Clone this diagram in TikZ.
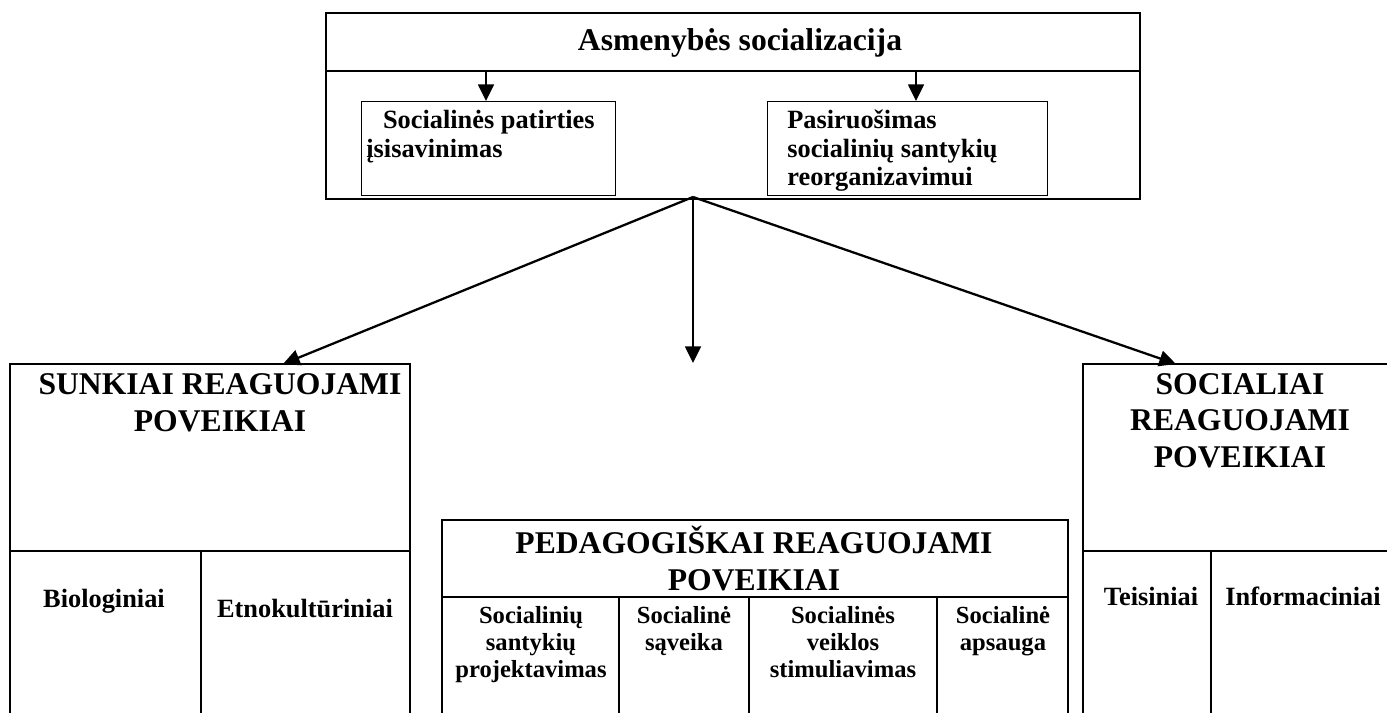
\documentclass[tikz,border=0pt]{standalone}
\usepackage{fontspec}
\setmainfont{Liberation Serif}
\usetikzlibrary{arrows.meta}

\tikzset{
  box/.style={draw, line width=0.8pt},
  arr/.style={line width=1.3pt, -{Triangle[length=9.5pt,width=9pt]}},
  head/.style={font=\bfseries\fontsize{18}{20.5}\selectfont, align=center, inner sep=0pt, anchor=base},
  sub/.style={font=\bfseries\fontsize{15}{16.5}\selectfont, align=left, inner sep=0pt, anchor=base west},
  cell/.style={font=\bfseries\fontsize{14}{15.3}\selectfont, align=center, inner sep=0pt, anchor=base},
  kind/.style={font=\bfseries\fontsize{15}{17}\selectfont, inner sep=0pt, anchor=base},
}

\begin{document}
\begin{tikzpicture}[x=0.02cm, y=-0.02cm]
        \useasboundingbox (0,0) rectangle (1387,713);

        % top block (multi-line nodes sit on the baseline of their last line)
        \draw[box] (326,13) rectangle (1140,199);
        \draw[box] (326,71) -- (1140,71);
        \node[head] (asm) at (740,51) {Asmenybės socializacija};

        \node[box, anchor=north west, minimum width=5.08cm, minimum height=1.88cm, inner sep=0pt] (patirtis) at (361,101) {};
        \node[box, anchor=north west, minimum width=5.6cm, minimum height=1.88cm, inner sep=0pt] (pasiruos) at (767,101) {};
        \node[sub] (patirtisTxt) at (366,157) {\hspace*{9.5pt}Socialinės patirties\\įsisavinimas};
        \node[sub] (pasiruosTxt) at (787,186) {Pasiruošimas\\socialinių santykių\\reorganizavimui};

        \coordinate (p1) at (486,71);
        \coordinate (p2) at (916,71);
        \draw[arr] (p1) -- (p1 |- patirtis.north);
        \draw[arr] (p2) -- (p2 |- pasiruos.north);

        % lower blocks
        \draw[box] (10,713) -- (10,364) -- (410,364) -- (410,713);
        \draw[box] (10,551) -- (410,551);
        \draw[box] (201,551) -- (201,713);

        \draw[box] (442,713) -- (442,520) -- (1068,520) -- (1068,713);
        \draw[box] (442,597) -- (1068,597);
        \foreach \x in {619,749,937}
            \draw[box] (\x,597) -- (\x,713);

        \draw[box] (1083,713) -- (1083,364) -- (1390,364);
        \draw[box] (1083,551) -- (1390,551);
        \draw[box] (1211,551) -- (1211,713);

        \node[head] (sunk) at (220,431) {SUNKIAI REAGUOJAMI\\POVEIKIAI};
        \node[head] (ped) at (754,590) {PEDAGOGIŠKAI REAGUOJAMI\\POVEIKIAI};
        \node[head] (soc) at (1240,467) {SOCIALIAI\\REAGUOJAMI\\POVEIKIAI};

        \node[kind] (bio) at (104,607) {Biologiniai};
        \node[kind] (etno) at (305,617) {Etnokultūriniai};
        \node[kind] (teis) at (1151,605) {Teisiniai};
        \node[kind] (info) at (1303,605) {Informaciniai};

        \node[cell] (proj) at (531,677) {Socialinių\\santykių\\projektavimas};
        \node[cell] (saveika) at (684,650) {Socialinė\\sąveika};
        \node[cell] (stim) at (843,677) {Socialinės\\veiklos\\stimuliavimas};
        \node[cell] (apsauga) at (1003,650) {Socialinė\\apsauga};

        % arrows from the top block
        \coordinate (hub) at (693,197);
        \coordinate (sunkIn) at (283,364);
        \coordinate (pedIn) at (693,363);
        \coordinate (socIn) at (1176,364);
        \draw[arr] (hub) -- (sunkIn);
        \draw[arr] (hub) -- (pedIn);
        \draw[arr] (hub) -- (socIn);
    \end{tikzpicture}
\end{document}
